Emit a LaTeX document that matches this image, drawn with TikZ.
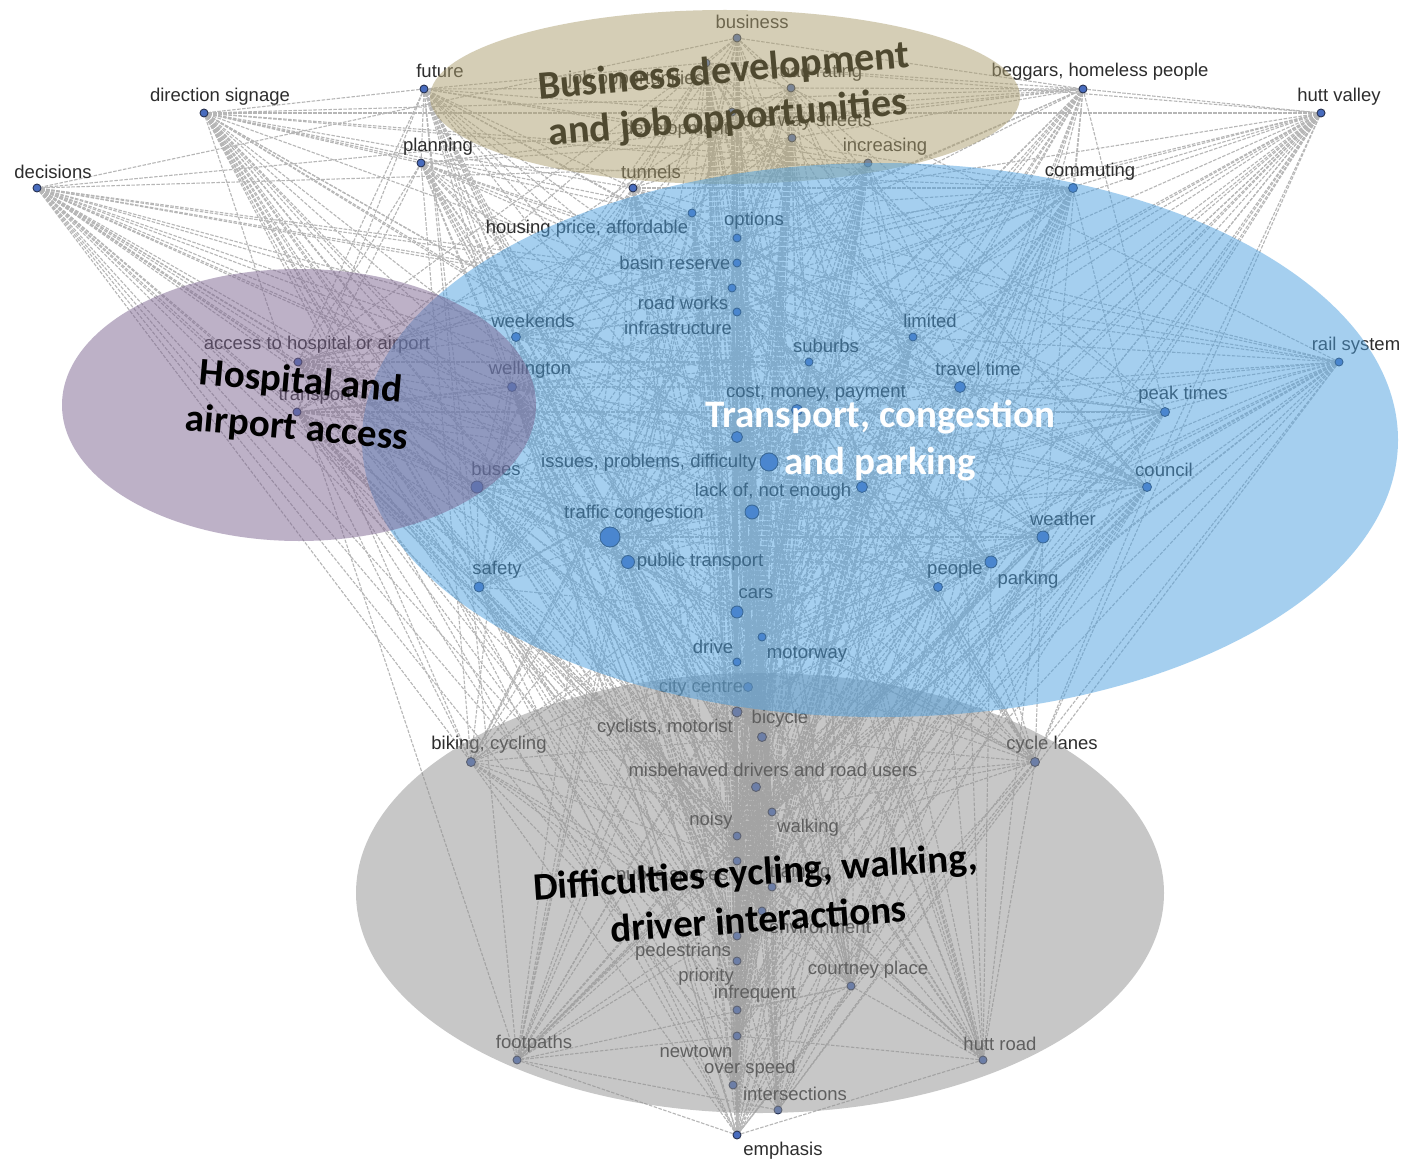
\documentclass[tikz,border=0pt]{standalone}
\usepackage{fontspec}
\setmainfont{Liberation Sans}
\newfontfamily\titlefont{Carlito}
\pgfdeclarelayer{edgelayer}
\pgfdeclarelayer{ovl}
\pgfdeclarelayer{ttl}
\pgfsetlayers{edgelayer,main,ovl,ttl}
\definecolor{dotfill}{RGB}{72,108,190}
\definecolor{dotline}{RGB}{40,50,80}
\definecolor{labgray}{RGB}{45,45,45}
\definecolor{edgegray}{RGB}{182,182,182}
\definecolor{blueell}{RGB}{77,161,225}
\definecolor{greyell}{RGB}{145,145,145}
\definecolor{tanell}{RGB}{173,159,111}
\definecolor{purpell}{RGB}{125,101,145}
\definecolor{bizcol}{RGB}{79,73,48}
\tikzset{
  kwdot/.style={circle, inner sep=0pt, minimum size=#1, fill=dotfill, draw=dotline, line width=0.9pt},
  kwdot/.default=8pt,
  kwlab/.style={inner sep=0pt, text=labgray, font=\fontsize{18.5}{20}\selectfont},
  edgeln/.style={draw=edgegray, line width=1.1pt, dash pattern=on 3.5pt off 1.5pt},
  ellfill/.style={fill=#1, fill opacity=0.5},
  titletext/.style={align=center, inner sep=0pt, font=\titlefont\bfseries\fontsize{39}{47}\selectfont}
}
\newcommand\kw[7]{\node[kwdot=#4] (#1) at (#2,#3) {}; \node[kwlab] (#1-l) at (#5,#6) {#7};}
\newcommand\kwd[4]{\node[kwdot=#4] (#1) at (#2,#3) {};}
\begin{document}
\begin{tikzpicture}[x=1pt,y=-1pt]
\useasboundingbox (0,0) rectangle (1403,1161);
% nodes
\kw{business}{737}{38}{8pt}{752}{22}{business}
\kw{jobopp}{706}{63}{8pt}{636}{80}{job opportunities}
\kw{roadrating}{791}{88}{8pt}{818}{73}{road rating}
\kw{development}{732}{112}{8pt}{676}{130}{development}
\kw{oneway}{792}{138}{8pt}{807}{122}{one way streets}
\kw{future}{424}{89}{8pt}{440}{71}{future}
\kw{signage}{204}{113}{8pt}{220}{97}{direction signage}
\kw{beggars}{1083}{89}{8pt}{1100}{72}{beggars, homeless people}
\kw{huttvalley}{1321}{113}{8pt}{1339}{97}{hutt valley}
\kw{decisions}{37}{188}{8pt}{53}{172}{decisions}
\kw{planning}{421}{163}{8pt}{438}{147}{planning}
\kw{tunnels}{633}{188}{8pt}{651}{172}{tunnels}
\kw{increasing}{868}{163}{8pt}{885}{147}{increasing}
\kw{commuting}{1073}{188}{9pt}{1090}{172}{commuting}
\kw{housing}{692}{213}{8pt}{587}{229}{housing price, affordable}
\kw{options}{737}{238}{8pt}{754}{221}{options}
\kw{basin}{737}{263}{8pt}{675}{263}{basin reserve}
\kw{roadworks}{732}{288}{8pt}{683}{303}{road works}
\kw{infra}{737}{312}{8pt}{678}{328}{infrastructure}
\kw{weekends}{516}{337}{9pt}{533}{321}{weekends}
\kw{limited}{913}{337}{8pt}{930}{321}{limited}
\kw{suburbs}{809}{362}{8pt}{826}{346}{suburbs}
\kw{access}{298}{362}{8pt}{317}{345}{access to hospital or airport}
\kw{wellington}{512}{387}{9pt}{530}{370}{wellington}
\kw{traveltime}{960}{387}{11pt}{978}{369}{travel time}
\kw{rail}{1339}{362}{8pt}{1356}{346}{rail system}
\kw{transport}{297}{412}{8pt}{315}{396}{transport}
\kw{cost}{797}{410}{11pt}{816}{393}{cost, money, payment}
\kw{peak}{1165}{412}{9pt}{1183}{395}{peak times}
\kwd{nA}{737}{437}{11pt}
\kw{issues}{769}{462}{18pt}{649}{463}{issues, problems, difficulty}
\kw{lackof}{752}{512}{14pt}{773}{492}{lack of, not enough}
\kwd{nB}{862}{487}{11pt}
\kw{council}{1147}{487}{9pt}{1164}{470}{council}
\kw{buses}{477}{487}{12pt}{496}{469}{buses}
\kw{traffic}{610}{537}{20pt}{634}{514}{traffic congestion}
\kw{weather}{1043}{537}{12pt}{1063}{519}{weather}
\kw{pubtrans}{628}{562}{13pt}{700}{562}{public transport}
\kw{parking}{991}{562}{12pt}{1028}{580}{parking}
\kw{people}{938}{587}{9pt}{955}{570}{people}
\kw{safety}{479}{587}{10pt}{497}{570}{safety}
\kw{cars}{737}{612}{12pt}{756}{594}{cars}
\kw{motorway}{762}{637}{8pt}{807}{654}{motorway}
\kw{drive}{737}{662}{8pt}{713}{647}{drive}
\kw{citycentre}{748}{687}{9pt}{701}{688}{city centre}
\kw{cyclists}{737}{712}{10pt}{665}{728}{cyclists, motorist}
\kw{bicycle}{762}{737}{9pt}{780}{719}{bicycle}
\kw{biking}{471}{762}{9pt}{489}{745}{biking, cycling}
\kw{cyclelanes}{1035}{762}{9pt}{1052}{745}{cycle lanes}
\kw{misbehaved}{756}{787}{9pt}{773}{770}{misbehaved drivers and road users}
\kw{walking}{772}{812}{8pt}{808}{828}{walking}
\kw{noisy}{737}{836}{8pt}{711}{821}{noisy}
\kw{pubspace}{737}{861}{8pt}{672}{876}{public spaces}
\kw{training}{772}{887}{8pt}{800}{873}{training}
\kw{environment}{762}{911}{8pt}{820}{927}{environment}
\kw{pedestrians}{737}{936}{8pt}{683}{952}{pedestrians}
\kw{priority}{737}{961}{8pt}{706}{977}{priority}
\kw{infrequent}{737}{1010}{8pt}{755}{994}{infrequent}
\kw{newtown}{737}{1036}{8pt}{696}{1052}{newtown}
\kw{overspeed}{733}{1085}{8pt}{750}{1069}{over speed}
\kw{intersections}{778}{1110}{8pt}{795}{1094}{intersections}
\kw{courtney}{851}{986}{8pt}{868}{970}{courtney place}
\kw{footpaths}{517}{1060}{8pt}{534}{1044}{footpaths}
\kw{huttroad}{983}{1060}{8pt}{1000}{1044}{hutt road}
\kw{emphasis}{737}{1135}{8pt}{783}{1151}{emphasis}
% edges
\begin{pgfonlayer}{edgelayer}
\fill[white] (0,0) rectangle (1403,1161);
\pgfmathsetseed{4242}
\foreach \a [count=\i] in {business,jobopp,roadrating,development,oneway,future,signage,beggars,huttvalley,decisions,planning,tunnels,increasing,commuting,housing,options,basin,roadworks,infra,weekends,limited,suburbs,access,wellington,traveltime,rail,transport,cost,peak,nA,issues,lackof,nB,council,buses,traffic,weather,pubtrans,parking,people,safety,cars,motorway,drive,citycentre,cyclists,bicycle,biking,cyclelanes,misbehaved,walking,noisy,pubspace,training,environment,pedestrians,priority,infrequent,newtown,overspeed,intersections,courtney,footpaths,huttroad,emphasis}{
  \foreach \b [count=\j] in {business,jobopp,roadrating,development,oneway,future,signage,beggars,huttvalley,decisions,planning,tunnels,increasing,commuting,housing,options,basin,roadworks,infra,weekends,limited,suburbs,access,wellington,traveltime,rail,transport,cost,peak,nA,issues,lackof,nB,council,buses,traffic,weather,pubtrans,parking,people,safety,cars,motorway,drive,citycentre,cyclists,bicycle,biking,cyclelanes,misbehaved,walking,noisy,pubspace,training,environment,pedestrians,priority,infrequent,newtown,overspeed,intersections,courtney,footpaths,huttroad,emphasis}{
    \ifnum\j>\i
      \pgfmathrandominteger{\r}{1}{100}
      \ifnum\r<44
        \draw[edgeln] (\a) -- (\b);
      \fi
    \fi
  }
}
\end{pgfonlayer}
% overlay ellipses
\begin{pgfonlayer}{ovl}
\fill[ellfill=greyell] (760,893) ellipse [x radius=404pt, y radius=220pt];
\fill[ellfill=tanell] (725,97) ellipse [x radius=295pt, y radius=87pt];
\fill[ellfill=blueell] (880,440) ellipse [x radius=518pt, y radius=277pt];
\fill[ellfill=purpell] (299,405) ellipse [x radius=237pt, y radius=136pt];
\end{pgfonlayer}
% titles
\begin{pgfonlayer}{ttl}
\node[titletext, text=bizcol, rotate=5, font=\titlefont\bfseries\fontsize{40}{47}\selectfont] (t1) at (726,96) {Business development\\and job opportunities};
\node[titletext, text=black, rotate=-5] (t2) at (299,406) {Hospital and\\airport access};
\node[titletext, text=white] (t3) at (880,441) {Transport, congestion\\and parking};
\node[titletext, text=black, rotate=4] (t4) at (757,895) {Difficulties cycling, walking,\\driver interactions};
\end{pgfonlayer}
\end{tikzpicture}
\end{document}
